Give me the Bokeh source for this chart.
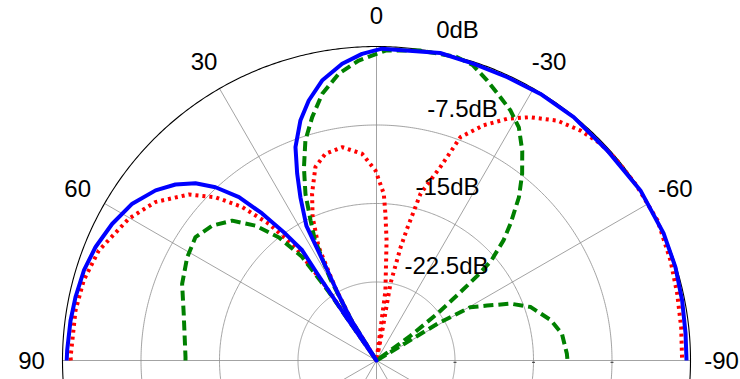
import numpy as np
from bokeh.plotting import figure
from bokeh.core.properties import value
from bokeh.embed import file_html
from bokeh.resources import INLINE

# ---------------- data (angle in degrees, level in dB) ----------------
blue_deg = [90, 88.1, 82.6, 78.1, 72.9, 68, 62.7, 57.3, 52.4, 48.8, 45.6, 42.9, 40.1, 37.9,
            35.7, 34.0, 34.3, 34.8, 34.5,
            32, 30, 28.5, 27.5, 25, 23, 20.8, 17.6, 14.6, 11, 6.6, 2.7, -1,
            -11.7, -18.2, -24.8, -31.6, -39, -47.7, -57.2, -66.2, -72.7, -78.9, -85, -90]
blue_db = [-0.4, -0.43, -0.52, -0.61, -0.75, -1.05, -1.57, -2.27, -3.36, -4.47, -5.79, -7.4, -9.6, -12.2,
           -15.1, -17.3, -20, -25, -30,
           -25.5, -22.8, -20, -15.5, -12.8, -10.6, -8.2, -5.95, -4.33, -2.75, -1.46, -0.67, -0.2,
           0.0, -0.17, -0.19, -0.1, -0.07, -0.19, 0.0, 0.0, -0.08, -0.24, -0.36, -0.38]

red_deg = [90, 89.4, 80.6, 74.7, 68.4, 60.2, 54.4, 48.5, 44.6, 41.2, 38.2, 35.6, 34.5, 34.6, 34.5,
           32, 29.5, 27, 24, 21.1, 17.5, 13.9, 9.1, 4, 0.3, -2.5, -3.5, -4.8, -7.3, -9,
           -11, -10.3, -12, -13.1, -14.8, -18.3, -20.6, -24.5, -28.4, -32.3, -37, -41.6, -45.9,
           -50, -56, -63.5, -71.2, -77.5, -83.8, -90]
red_db = [-0.8, -0.77, -0.85, -1.0, -1.46, -2.73, -4.0, -6.06, -8.1, -10.5, -13.4, -16.7, -21, -26, -30,
          -25.5, -22, -17.8, -15, -12.9, -10.6, -9.66, -9.36, -10.2, -11.85, -14.05, -16.0, -18.5, -23.3, -30,
          -27, -22.5, -19, -17, -13.5, -10.5, -7.2, -5.3, -3.75, -2.5, -1.3, -0.63, -0.22,
          -0.1, -0.05, 0.0, -0.33, -0.57, -0.72, -0.8]

green_deg = [90, 89, 76.4, 68.5, 61.4, 55.7, 50.6, 45.9, 41.9, 38.4, 35.7, 34.8, 34.5,
             32, 29.5, 27, 25.2, 23.1, 20.6, 17.9, 14.8, 11.5, 7.5, 3.4, -1.7, -8, -14.7, -18,
             -21.6, -25.2, -28.2, -31.4, -34.8, -38, -41.1, -44.4, -46.6, -49, -50, -51,
             -52.4, -54, -56, -58.9, -60.4, -63.6, -67, -70.9, -77, -81.8, -88, -90]
green_db = [-11.75, -11.75, -11.05, -10.04, -9.4, -9.07, -9.7, -10.8, -12.7, -15, -17.8, -22, -30,
            -25.5, -21, -17, -15.2, -12.7, -10.3, -7.9, -5.95, -4.0, -2.37, -1.29, -0.37, -0.1, 0.0, -0.3,
            -1.24, -2.2, -2.9, -3.9, -5.6, -7.4, -9.3, -11.7, -13.3, -15.5, -17.5, -20,
            -22.6, -26, -30, -23.2, -19.7, -18.2, -16.1, -14.4, -12.9, -12.1, -11.8, -11.75]

angle_ticks = [0, 30, -30, 60, -60, 90, -90]
angle_labels = ["0", "30", "-30", "60", "-60", "90", "-90"]
ring_db = [0, -7.5, -15, -22.5]
ring_labels = ["0dB", "-7.5dB", "-15dB", "-22.5dB"]
db_min = -30.0

# ---------------- geometry ----------------
R = 314.0            # outer radius in plot units (1 unit = 1 px)


def radius(db):
    db = np.maximum(np.asarray(db, dtype=float), db_min)
    return R * (db - db_min) / (0 - db_min)


def to_xy(deg, db):
    t = np.radians(np.asarray(deg, dtype=float))
    r = radius(db)
    return -r * np.sin(t), r * np.cos(t)


p = figure(width=740, height=379, x_range=(-376, 364), y_range=(-19, 360),
           output_backend="svg", toolbar_location=None, min_border=0)
p.axis.visible = False
p.grid.visible = False
p.outline_line_color = None
p.background_fill_color = "white"

# rings
full = np.linspace(0, 2 * np.pi, 721)
for db in ring_db[1:]:
    r = float(radius(db))
    p.line(r * np.cos(full), r * np.sin(full), line_color="#8c8c8c", line_width=0.8)

# spokes (full diameters)
for a in [0, 30, 60, 90, -30, -60]:
    t = np.radians(a)
    p.line([-R * np.sin(t), R * np.sin(t)], [R * np.cos(t), -R * np.cos(t)],
           line_color="#8c8c8c", line_width=0.8)

# outer circle
p.line(R * np.cos(full), R * np.sin(full), line_color="black", line_width=1.1)

# small ticks on the horizontal axis at ring radii
for db in ring_db[1:]:
    r = float(radius(db))
    p.line([r - 1.5, r + 1.5], [-1.8, -1.8], line_color="#333333", line_width=1)

# curves
xr, yr = to_xy(red_deg, red_db)
p.line(xr, yr, line_color="#ff0000", line_width=4, line_dash="3 4")
xg, yg = to_xy(green_deg, green_db)
p.line(xg, yg, line_color="#008000", line_width=4, line_dash="10 5")
xb, yb = to_xy(blue_deg, blue_db)
p.line(xb, yb, line_color="#0000ff", line_width=4, line_join="round")

# angle labels
lab_r = R + 31
ta = np.radians(np.array(angle_ticks, dtype=float))
p.text(x=list(-lab_r * np.sin(ta)), y=list(lab_r * np.cos(ta)), text=angle_labels,
       text_font=value("Liberation Sans"), text_font_size="24px", text_color="black",
       text_align="center", text_baseline="middle")

# dB labels
ring_r = radius(ring_db)
label_dx = [81, 86, 71, 70]
p.text(x=label_dx, y=list(ring_r + 17), text=ring_labels,
       text_font=value("Liberation Sans"), text_font_size="24px", text_color="black",
       text_align="center", text_baseline="middle")

open("out.html", "w").write(file_html(p, INLINE))
